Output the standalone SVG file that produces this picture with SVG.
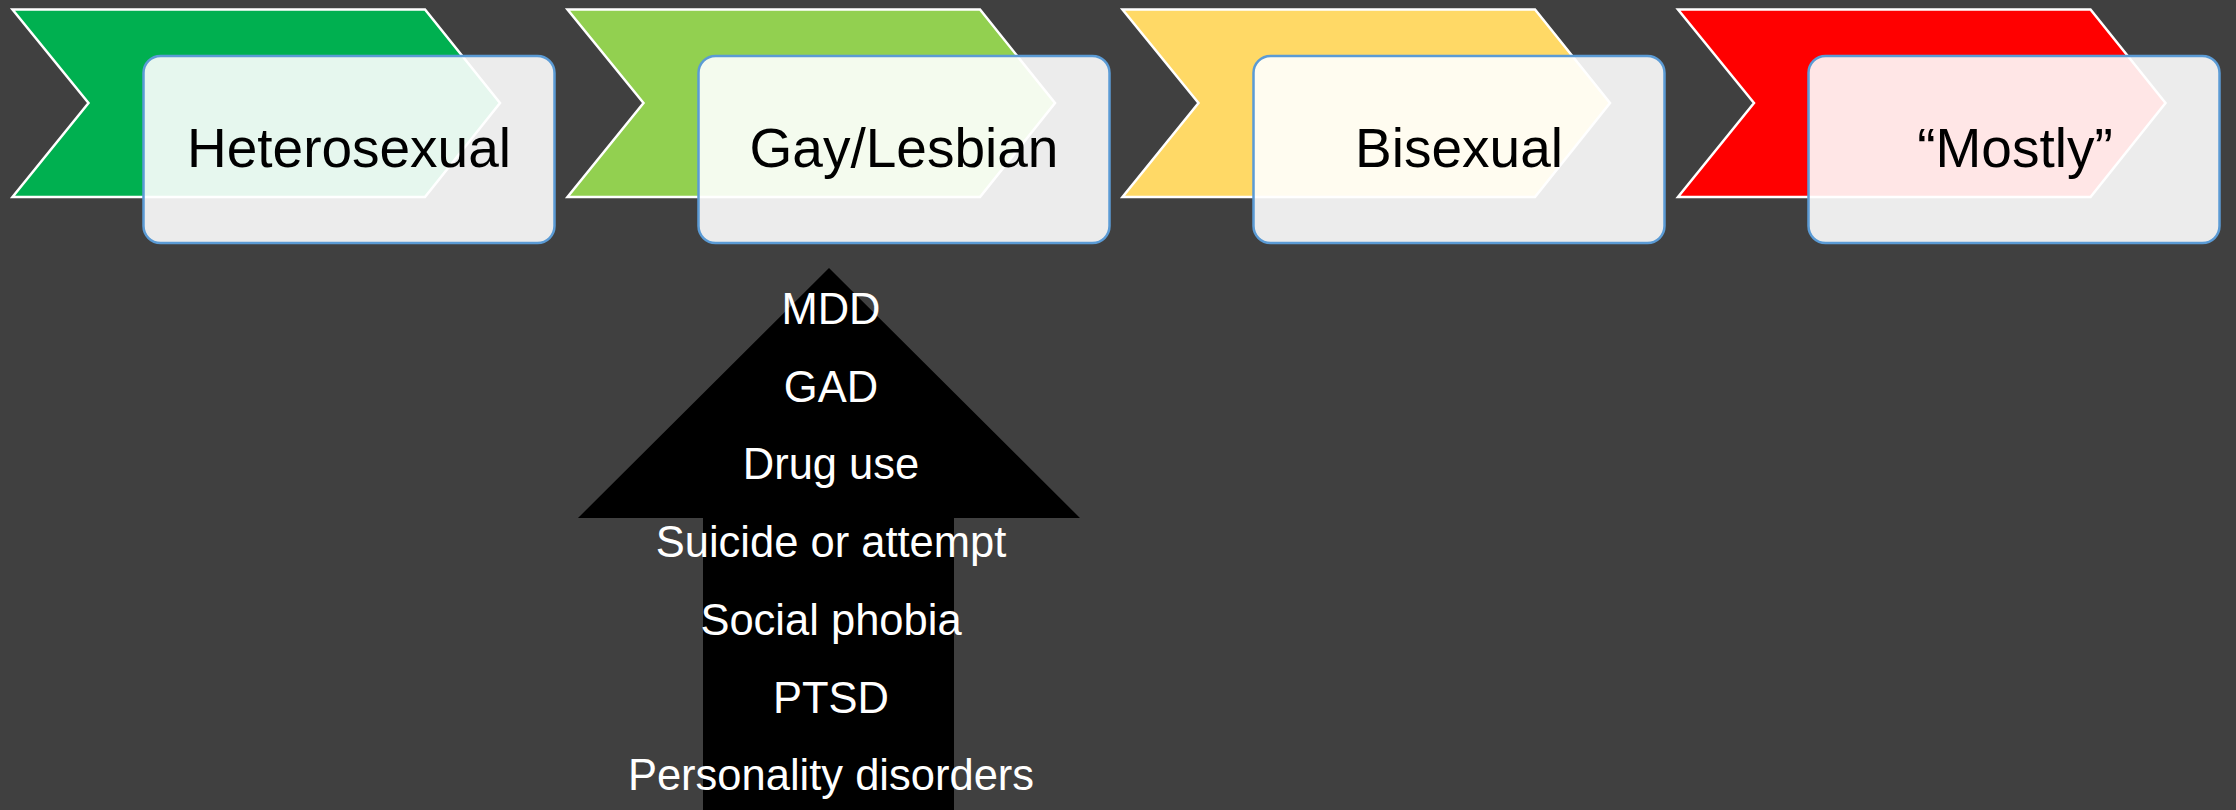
<svg xmlns="http://www.w3.org/2000/svg" width="2236" height="810" viewBox="0 0 2236 810">
<style>
.chev{stroke:#FFFFFF;stroke-width:2.5;stroke-linejoin:miter}
.box{fill:#FFFFFF;fill-opacity:0.9;stroke:#5B9BD5;stroke-width:2.5}
.lbl{font-family:"Liberation Sans",Arial,sans-serif;font-size:55px;fill:#000000;text-anchor:middle}
.item{font-family:"Liberation Sans",Arial,sans-serif;font-size:43.5px;fill:#FFFFFF;text-anchor:middle}
</style>
<rect x="0" y="0" width="2236" height="810" fill="#404040"/>
<g id="node-heterosexual">
<polygon class="chev" fill="#00B050" points="12.5,9.5 425,9.5 500,103 425,197 12.5,197 88.5,103"/>
<rect class="box" x="143.5" y="56" width="411" height="187" rx="17" ry="17"/>
<text class="lbl" x="349" y="167">Heterosexual</text>
</g>
<g id="node-gay-lesbian">
<polygon class="chev" fill="#92D050" points="567.5,9.5 980,9.5 1055,103 980,197 567.5,197 643.5,103"/>
<rect class="box" x="698.5" y="56" width="411" height="187" rx="17" ry="17"/>
<text class="lbl" x="904" y="167">Gay/Lesbian</text>
</g>
<g id="node-bisexual">
<polygon class="chev" fill="#FFD966" points="1122.5,9.5 1535,9.5 1610,103 1535,197 1122.5,197 1198.5,103"/>
<rect class="box" x="1253.5" y="56" width="411" height="187" rx="17" ry="17"/>
<text class="lbl" x="1459" y="167">Bisexual</text>
</g>
<g id="node-mostly">
<polygon class="chev" fill="#FF0000" points="1678,9.5 2090.5,9.5 2165.5,103 2090.5,197 1678,197 1754,103"/>
<rect class="box" x="1808.5" y="56" width="411" height="187" rx="17" ry="17"/>
<text class="lbl" x="2015" y="167">“Mostly”</text>
</g>
<g id="node-up-arrow">
<polygon fill="#000000" points="829,268 1080,518 954,518 954,810 703,810 703,518 578,518"/>
<text class="item" x="831" y="324">MDD</text>
<text class="item" x="831" y="401.7">GAD</text>
<text class="item" x="831" y="479.4">Drug use</text>
<text class="item" x="831" y="557.1">Suicide or attempt</text>
<text class="item" x="831" y="634.8">Social phobia</text>
<text class="item" x="831" y="712.5">PTSD</text>
<text class="item" x="831" y="790.2">Personality disorders</text>
</g>
<g id="connectors"></g>
</svg>
